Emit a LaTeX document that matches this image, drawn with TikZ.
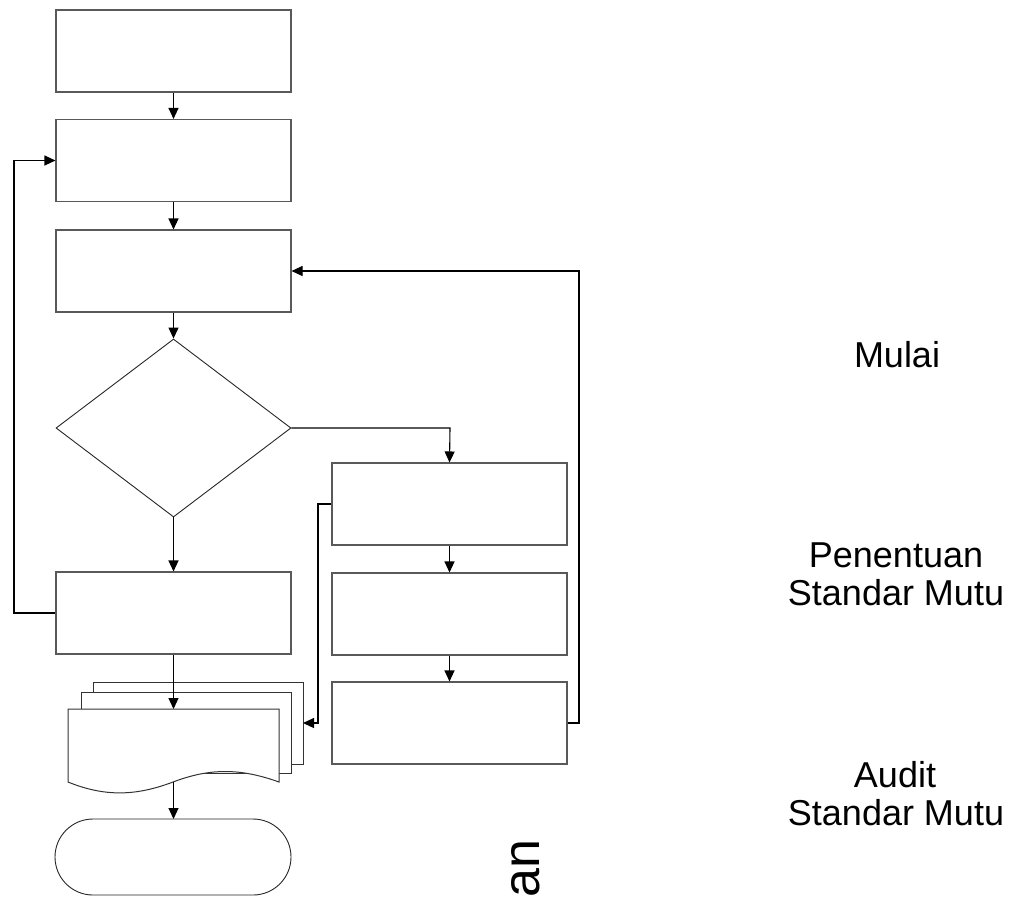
\documentclass[tikz,border=0pt]{standalone}
\usepackage{fontspec}
\setmainfont{Liberation Sans}
\usetikzlibrary{shapes.geometric,arrows.meta}
\begin{document}
\begin{tikzpicture}[x=1pt,y=-1pt,
  box/.style={draw=black!65,line width=1.1pt,minimum width=235pt,minimum height=82pt,inner sep=0pt},
  dec/.style={draw=black!85,line width=0.9pt,shape=diamond,minimum width=235pt,minimum height=178pt,inner sep=0pt},
  term/.style={draw=black!85,line width=0.9pt,rounded corners=38pt},
  sheet/.style={draw=black!80,fill=white,line width=1pt},
  conn/.style={draw=black,line width=1.1pt},
  arr/.style={conn,-{Triangle[length=11pt,width=10pt]}},
  lbl/.style={font=\fontsize{36}{40}\selectfont,anchor=base,inner sep=0pt}]
\useasboundingbox (0,0) rectangle (1016,898);
% left column
\node[box] (b1) at (173.5,51) {};
\node[box] (b2) at (173.5,160.5) {};
\node[box] (b3) at (173.5,271) {};
\node[dec] (d1) at (173.5,428) {};
\node[box] (b4) at (173.5,613) {};
% right column
\node[box] (r1) at (449.5,504) {};
\node[box] (r2) at (449.5,614) {};
\node[box] (r3) at (449.5,723) {};
% document stack
\draw[sheet] (93,682) rectangle (303,764);
\draw[sheet] (81,692) rectangle (291,773);
\draw[sheet] (68,709) -- (279,709) -- (279,782)
  .. controls (240,768) and (210,768) .. (173,782)
  .. controls (136,796) and (105,797) .. (68,782) -- cycle;
\coordinate (doctop) at (173.5,709);
\coordinate (docbot) at (173.5,782);
\coordinate (docright) at (303,723);
% terminator
\draw[term] (55,819) rectangle (291,895);
\coordinate (termtop) at (173.5,819);
% connectors
\draw[arr] (b1.south) -- (b2.north);
\draw[arr] (b2.south) -- (b3.north);
\draw[arr] (b3.south) -- (d1.north);
\draw[arr] (d1.south) -- (b4.north);
\draw[arr] (b4.south) -- (doctop);
\draw[arr] (docbot) -- (termtop);
\draw[arr] (b4.west) -- (14,613) -- (14,160.5) -- (b2.west);
\draw[arr] (d1.east) -- (450,428) -- (r1.north);
\draw[arr] (r1.south) -- (r2.north);
\draw[arr] (r2.south) -- (r3.north);
\draw[arr] (r3.east) -- (579,723) -- (579,271) -- (b3.east);
\draw[arr] (r1.west) -- (318,504) -- (318,723) -- (docright);
% labels
\node[lbl] (t1) at (897,367) {Mulai};
\node[lbl] (t2) at (896,567) {Penentuan};
\node[lbl] (t3) at (896,605) {Standar Mutu};
\node[lbl] (t4) at (895,787) {Audit};
\node[lbl] (t5) at (896,825) {Standar Mutu};
\node[rotate=90,anchor=base west,inner sep=0pt,font=\fontsize{52}{58}\selectfont] (t6) at (539,898) {an};
\end{tikzpicture}
\end{document}
